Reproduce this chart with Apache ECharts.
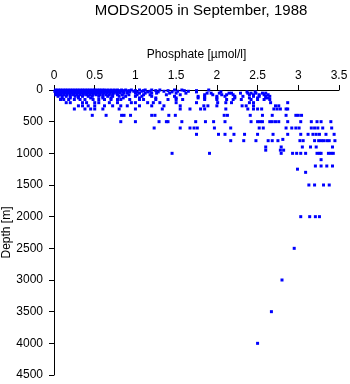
<!DOCTYPE html>
<html>
<head>
<meta charset="utf-8">
<script src="https://cdn.jsdelivr.net/npm/echarts@6/dist/echarts.min.js"></script>
<style>html,body{margin:0;padding:0;background:#fff}#c{width:350px;height:384px}</style>
</head>
<body>
<div id="c"></div>
<script>
// Phosphate values (µmol/l) observed at each depth level (m)
const d0 = [0.02,0.05,0.08,0.11,0.14,0.17,0.2,0.23,0.26,0.29,0.32,0.35,0.38,0.41,0.44,0.47,0.5,0.53,0.56,0.59,0.62,0.66,0.7,0.74,0.78,0.83,0.88,0.95,1.05,1.12,1.2,1.3,1.48,1.57,1.9];
const d10 = [0.03,0.06,0.09,0.12,0.15,0.18,0.21,0.24,0.27,0.3,0.33,0.36,0.39,0.42,0.45,0.48,0.51,0.54,0.57,0.6,0.64,0.68,0.72,0.76,0.8,0.86,0.92,1.0,1.1,1.25,1.4,1.6,1.75];
const d20 = [0.01,0.04,0.07,0.1,0.13,0.16,0.19,0.22,0.25,0.28,0.31,0.34,0.37,0.4,0.43,0.46,0.49,0.52,0.55,0.58,0.61,0.65,0.69,0.73,0.77,0.82,0.9,0.98,1.08,1.18,1.35,1.52,1.65];
const d30 = [0.02,0.05,0.08,0.11,0.14,0.17,0.2,0.23,0.26,0.29,0.32,0.35,0.38,0.41,0.44,0.47,0.5,0.53,0.56,0.6,0.63,0.67,0.71,0.75,0.8,0.85,0.93,1.02,1.15,1.28,1.45,1.75,2.05,2.37,2.47];
const d50 = [0.03,0.06,0.09,0.12,0.15,0.18,0.21,0.24,0.27,0.3,0.33,0.36,0.39,0.42,0.45,0.48,0.51,0.54,0.57,0.61,0.65,0.69,0.73,0.77,0.81,0.86,0.9,1.0,1.05,1.12,1.2,1.26,1.42,1.5,1.62,1.88,1.93,2.03,2.15,2.18,2.29,2.38,2.42,2.48,2.56,2.6];
const d75 = [0.02,0.05,0.08,0.12,0.16,0.2,0.24,0.28,0.32,0.36,0.4,0.44,0.48,0.52,0.56,0.6,0.64,0.68,0.72,0.78,0.84,0.92,1.02,1.1,1.18,1.38,1.55,1.85,1.95,2.06,2.12,2.2,2.4,2.45,2.52,2.58,2.63];
const d100 = [0.05,0.1,0.15,0.2,0.26,0.3,0.35,0.42,0.47,0.55,0.6,0.66,0.72,0.8,0.88,1.0,1.08,1.2,1.48,1.77,1.85,2.0,2.1,2.22,2.32,2.45,2.52,2.6,2.65];
const d125 = [0.1,0.2,0.3,0.45,0.6,0.7,0.85,1.05,1.25,1.5,1.77,1.85,2.0,2.22,2.4,2.5,2.6,2.63];
const d150 = [0.08,0.12,0.18,0.25,0.32,0.38,0.48,0.55,0.62,0.7,0.78,0.82,0.93,1.05,1.1,1.25,1.4,1.5,1.58,1.85,2.0,2.12,2.2,2.3,2.42,2.5,2.58,2.65];
const d200 = [0.15,0.2,0.35,0.4,0.5,0.55,0.68,0.78,0.95,1.0,1.15,1.22,1.3,1.5,1.75,2.01,2.11,2.18,2.4,2.45,2.66,2.87];
const d250 = [0.3,0.35,0.42,0.5,0.62,0.72,0.82,0.9,1.05,1.2,1.35,1.55,1.84,1.89,2.0,2.31,2.36,2.45,2.72,2.76];
const d300 = [0.25,0.38,0.45,0.5,0.6,0.8,1.0,1.33,1.55,1.67,1.8,1.85,2.11,2.38,2.45,2.5,2.55,2.7,2.74,2.78,2.85,2.87];
const d400 = [0.47,0.64,0.83,0.86,0.94,1.2,1.24,1.41,1.49,2.09,2.13,2.41,2.56,2.68,2.85,2.97,3.0,3.04];
const d500 = [0.82,1.0,1.29,1.38,1.4,1.57,1.74,1.86,1.96,2.1,2.42,2.5,2.53,2.56,2.65,2.68,2.72,2.76,2.87,3.03,3.16,3.23,3.28,3.4];
const d600 = [1.23,1.55,1.67,1.72,1.76,1.97,2.17,2.52,2.57,2.85,2.92,2.97,3.01,3.16,3.2,3.24,3.3,3.41];
const d700 = [1.75,2.02,2.1,2.21,2.34,2.5,2.69,2.87,3.03,3.12,3.18,3.22,3.26,3.34,3.44];
const d780 = [2.81];
const d800 = [2.17,2.33,2.48,2.63,2.68,2.75,3.02,3.06,3.2,3.25,3.28,3.31,3.35,3.38,3.45];
const d900 = [2.6,2.79,3.05,3.15,3.22,3.42];
const d950 = [2.6,2.78,2.82];
const d1000 = [1.45,1.91,2.79,2.93,2.98,3.03,3.09,3.23,3.26,3.28,3.37,3.4,3.43];
const d1100 = [3.28];
const d1200 = [3.21,3.28,3.35,3.42];
const d1250 = [2.99];
const d1300 = [3.09];
const d1500 = [3.13,3.2,3.31,3.38];
const d2000 = [3.03,3.14,3.21,3.26];
const d2500 = [2.95];
const d3000 = [2.8];
const d3500 = [2.67];
const d4000 = [2.5];

const depthLevels = [0,10,20,30,50,75,100,125,150,200,250,300,400,500,600,700,780,800,900,950,1000,1100,1200,1250,1300,1500,2000,2500,3000,3500,4000];
const phosphateByLevel = [d0,d10,d20,d30,d50,d75,d100,d125,d150,d200,d250,d300,d400,d500,d600,d700,d780,d800,d900,d950,d1000,d1100,d1200,d1250,d1300,d1500,d2000,d2500,d3000,d3500,d4000];

const xTicks = [0,0.5,1,1.5,2,2.5,3,3.5];
const yTicks = [0,500,1000,1500,2000,2500,3000,3500,4000,4500];

const points = [];
depthLevels.forEach((d, i) => phosphateByLevel[i].forEach(p => points.push([p, d])));

const font = '"Liberation Sans", Arial, sans-serif';
const chart = echarts.init(document.getElementById('c'), null, {renderer: 'canvas'});
chart.setOption({
  animation: false,
  backgroundColor: '#ffffff',
  title: {
    text: 'MODS2005 in September, 1988',
    left: 196, top: -2, textAlign: 'center',
    textStyle: {fontFamily: font, fontSize: 15, fontWeight: 'normal', color: '#000'}
  },
  grid: {left: 54, top: 90, right: 11, bottom: 9, containLabel: false, outerBoundsMode: 'none'},
  xAxis: {
    type: 'value', position: 'top',
    min: xTicks[0], max: xTicks[xTicks.length - 1], interval: 0.5,
    name: 'Phosphate [µmol/l]', nameLocation: 'middle', nameGap: 29, nameMoveOverlap: false,
    nameTextStyle: {fontFamily: font, fontSize: 12, color: '#000'},
    axisLine: {show: true, lineStyle: {color: '#000', width: 1}},
    axisTick: {show: true, length: 5, lineStyle: {color: '#000'}},
    axisLabel: {fontFamily: font, fontSize: 12, color: '#000', margin: 8, formatter: v => String(v)},
    splitLine: {show: false}
  },
  yAxis: {
    type: 'value', inverse: true,
    min: yTicks[0], max: yTicks[yTicks.length - 1], interval: 500,
    name: 'Depth [m]', nameLocation: 'middle', nameGap: 41, nameRotate: 90, nameMoveOverlap: false,
    nameTextStyle: {fontFamily: font, fontSize: 12, color: '#000'},
    axisLine: {show: true, lineStyle: {color: '#000', width: 1}},
    axisTick: {show: true, length: 5, lineStyle: {color: '#000'}},
    axisLabel: {fontFamily: font, fontSize: 12, color: '#000', margin: 11, formatter: v => String(v)},
    splitLine: {show: false}
  },
  series: [{
    type: 'scatter',
    data: points,
    symbol: 'rect',
    symbolSize: 3,
    itemStyle: {color: '#0000ff', opacity: 1},
    clip: false
  }]
});
</script>
</body>
</html>
